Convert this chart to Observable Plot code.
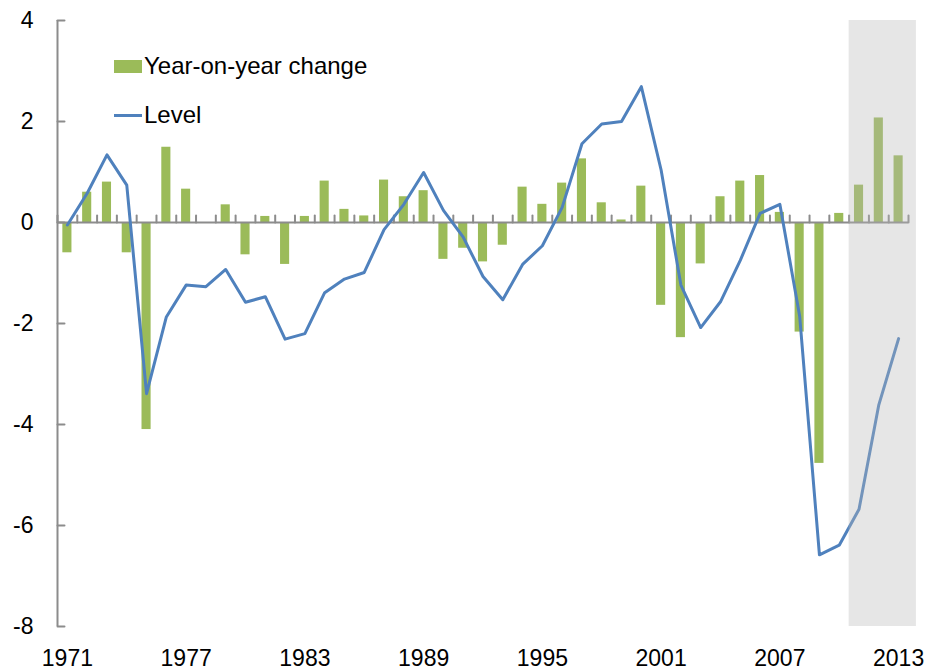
<!DOCTYPE html>
<html><head><meta charset="utf-8">
<script src="https://cdn.jsdelivr.net/npm/d3@7"></script>
<script src="https://cdn.jsdelivr.net/npm/@observablehq/plot@0.6"></script>
<style>
body{margin:0;background:#fff;font-family:"Liberation Sans",Arial,sans-serif;}
#chart{position:relative;width:928px;height:670px;}
.legend{position:absolute;left:114px;top:52px;font-size:24px;color:#000;line-height:1;}
.legend .item{position:absolute;left:0;white-space:nowrap;display:flex;align-items:center;}
.legend .sw{display:inline-block;width:28px;margin-right:2px;}
</style></head><body><div id="chart"></div><script>
const years = [1971,1972,1973,1974,1975,1976,1977,1978,1979,1980,1981,1982,1983,1984,1985,1986,1987,1988,1989,1990,1991,1992,1993,1994,1995,1996,1997,1998,1999,2000,2001,2002,2003,2004,2005,2006,2007,2008,2009,2010,2011,2012,2013];
const changes = [-0.6,0.6,0.8,-0.6,-4.1,1.49,0.66,-0.02,0.35,-0.64,0.12,-0.83,0.12,0.82,0.26,0.13,0.84,0.51,0.63,-0.73,-0.51,-0.78,-0.45,0.70,0.36,0.78,1.26,0.39,0.05,0.72,-1.64,-2.28,-0.82,0.51,0.82,0.93,0.20,-2.17,-4.77,0.18,0.74,2.07,1.32];
const levels = [-0.05,0.58,1.34,0.74,-3.39,-1.87,-1.24,-1.27,-0.93,-1.58,-1.47,-2.31,-2.20,-1.39,-1.12,-0.99,-0.14,0.36,0.99,0.24,-0.29,-1.07,-1.53,-0.83,-0.46,0.30,1.56,1.95,2.00,2.69,1.04,-1.24,-2.08,-1.57,-0.75,0.18,0.36,-1.85,-6.58,-6.39,-5.68,-3.61,-2.30];
const forecastYears = [2011,2012,2013];
const yTicks = [-8,-6,-4,-2,0,2,4];
const xTickLabels = [1971,1977,1983,1989,1995,2001,2007,2013];

const data = years.map((year, i) => ({year, change: changes[i], level: levels[i]}));
const edges = [...years.map(y => y - 0.5), years[years.length - 1] + 0.5];
const tickShape = {draw(ctx, l) { ctx.moveTo(0, 0); ctx.lineTo(0, -l); }};
const axisColor = "#8c8c8c";

const plot = Plot.plot({
  width: 928, height: 670,
  marginLeft: 57, marginRight: 20, marginTop: 20, marginBottom: 44,
  style: {fontFamily: "'Liberation Sans', Arial, sans-serif", fontSize: "23px", color: "#000", background: "#fff", overflow: "visible"},
  x: {type: "linear", domain: [years[0] - 0.5, years[years.length - 1] + 0.5], label: null},
  y: {domain: [yTicks[0], yTicks[yTicks.length - 1]], label: null},
  marks: [
    Plot.rectY(data, {x1: d => d.year - 0.23, x2: d => d.year + 0.23, y1: 0, y2: "change", fill: "#9BBB59"}),
    Plot.ruleY([0], {stroke: axisColor, strokeWidth: 2}),
    Plot.vector(edges, {x: d => d, y: 0, length: 7, shape: tickShape, anchor: "start", stroke: axisColor, strokeWidth: 2, fill: "none"}),
    Plot.ruleX([years[0] - 0.5], {y1: yTicks[0], y2: yTicks[yTicks.length - 1], stroke: axisColor, strokeWidth: 2}),
    Plot.vector(yTicks, {x: years[0] - 0.5, y: d => d, length: 7, rotate: 90, shape: tickShape, anchor: "start", stroke: axisColor, strokeWidth: 2, fill: "none"}),
    Plot.lineY(data, {x: "year", y: "level", stroke: "#4F81BD", strokeWidth: 3}),
    Plot.rect([forecastYears], {x1: d => d[0] - 0.5, x2: d => d[d.length - 1] + 0.9, y1: yTicks[0], y2: yTicks[yTicks.length - 1], fill: "#b8b8b8", fillOpacity: 0.35}),
    Plot.axisY({ticks: yTicks, tickSize: 0, tickPadding: 24, tickFormat: d => String(d), fontSize: 23, label: null}),
    Plot.axisX({ticks: xTickLabels, tickSize: 0, tickPadding: 23, tickFormat: d => String(d), fontSize: 23, label: null})
  ]
});
const chart = document.getElementById("chart");
chart.appendChild(plot);

const legend = document.createElement("div");
legend.className = "legend";
legend.innerHTML = `
  <div class="item" style="top:0px;height:28px;"><span class="sw" style="height:13px;background:#9BBB59;"></span><span>Year-on-year change</span></div>
  <div class="item" style="top:49px;height:28px;"><span class="sw" style="height:3px;background:#4F81BD;"></span><span>Level</span></div>`;
chart.appendChild(legend);
</script></body></html>
